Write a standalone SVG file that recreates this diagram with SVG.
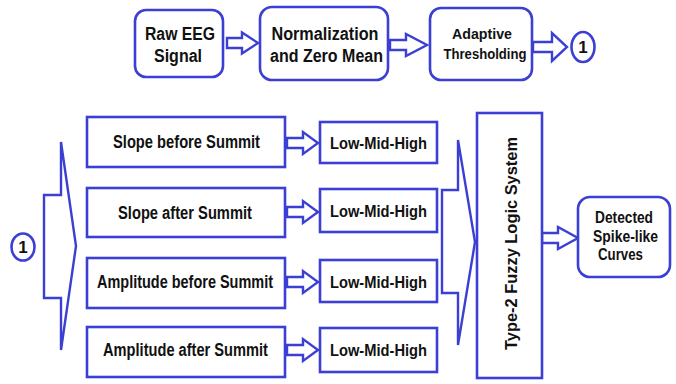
<svg xmlns="http://www.w3.org/2000/svg" width="676" height="384" viewBox="0 0 676 384">
<style>
.b{fill:#fff;stroke:#3b3fd4;stroke-width:2.6}
.a{fill:#fff;stroke:#3b3fd4;stroke-width:2.4;stroke-linejoin:miter}
text{font-family:"Liberation Sans",Arial,sans-serif;font-weight:bold;fill:#111;text-anchor:middle}
.t18{font-size:18px}
.t17{font-size:17px}
.t16{font-size:16px}
.t15{font-size:15px}
</style>
<rect width="676" height="384" fill="#fff"/>
<g id="connectors">
<path class="a" d="M227,38 H242 V32.5 L258,43 L242,53.5 V48 H227 Z"/>
<path class="a" d="M390,40 H406 V34 L427,45 L406,56 V50 H390 Z"/>
<path class="a" d="M533,42 H552 V33 L567,47 L552,61 V52 H533 Z"/>
<path class="a" d="M44,195 H61 V142 L76,246 L61,350 V298 H44 Z"/>
<path class="a" d="M287,138 H303 V132 L318,143 L303,154 V148 H287 Z"/>
<path class="a" d="M287,207 H303 V201 L318,212 L303,223 V217 H287 Z"/>
<path class="a" d="M287,277 H303 V271 L318,282 L303,293 V287 H287 Z"/>
<path class="a" d="M287,345 H303 V339 L318,350 L303,361 V355 H287 Z"/>
<path class="a" d="M442,190 H458 V140 L475,242 L458,345 V293 H442 Z"/>
<path class="a" d="M542,233 H558 V227 L578,238 L558,249 V243 H542 Z"/>
</g>
<g id="raw">
<rect class="b" x="135" y="10" width="88" height="67" rx="11"/>
<text class="t18" x="180" y="40" textLength="70" lengthAdjust="spacingAndGlyphs">Raw EEG</text>
<text class="t18" x="178" y="62" textLength="48" lengthAdjust="spacingAndGlyphs">Signal</text>
</g>
<g id="norm">
<rect class="b" x="260" y="7" width="128" height="73" rx="12"/>
<text class="t18" x="325" y="40" textLength="107" lengthAdjust="spacingAndGlyphs">Normalization</text>
<text class="t18" x="326.5" y="62" textLength="113" lengthAdjust="spacingAndGlyphs">and Zero Mean</text>
</g>
<g id="adapt">
<rect class="b" x="430" y="8" width="102" height="72" rx="11"/>
<text class="t15" x="482" y="38.5" textLength="60" lengthAdjust="spacingAndGlyphs">Adaptive</text>
<text class="t15" x="485" y="58.5" textLength="83" lengthAdjust="spacingAndGlyphs">Thresholding</text>
</g>
<g id="c1top">
<ellipse class="b" cx="583" cy="47" rx="11.5" ry="15"/>
<text class="t17" x="583" y="53">1</text>
</g>
<g id="c1left">
<ellipse class="b" cx="23" cy="247" rx="11.5" ry="13.5"/>
<text class="t17" x="23" y="253">1</text>
</g>
<g id="slopeBefore">
<rect class="b" x="87" y="117" width="198" height="50"/>
<text class="t18" x="186.5" y="147.5" textLength="147" lengthAdjust="spacingAndGlyphs">Slope before Summit</text>
</g>
<g id="slopeAfter">
<rect class="b" x="87" y="188" width="198" height="49"/>
<text class="t18" x="185" y="218.5" textLength="134" lengthAdjust="spacingAndGlyphs">Slope after Summit</text>
</g>
<g id="ampBefore">
<rect class="b" x="87" y="258" width="198" height="50"/>
<text class="t18" x="185" y="287.5" textLength="176" lengthAdjust="spacingAndGlyphs">Amplitude before Summit</text>
</g>
<g id="ampAfter">
<rect class="b" x="87" y="327" width="198" height="50"/>
<text class="t18" x="185.5" y="355.5" textLength="165" lengthAdjust="spacingAndGlyphs">Amplitude after Summit</text>
</g>
<g id="lmh1">
<rect class="b" x="320" y="122" width="117" height="41"/>
<text class="t17" x="378.5" y="149" textLength="97" lengthAdjust="spacingAndGlyphs">Low-Mid-High</text>
</g>
<g id="lmh2">
<rect class="b" x="320" y="189" width="117" height="43"/>
<text class="t17" x="378.5" y="216.5" textLength="97" lengthAdjust="spacingAndGlyphs">Low-Mid-High</text>
</g>
<g id="lmh3">
<rect class="b" x="320" y="260" width="117" height="42"/>
<text class="t17" x="378.5" y="287.5" textLength="97" lengthAdjust="spacingAndGlyphs">Low-Mid-High</text>
</g>
<g id="lmh4">
<rect class="b" x="320" y="328" width="117" height="44"/>
<text class="t17" x="378.5" y="356" textLength="97" lengthAdjust="spacingAndGlyphs">Low-Mid-High</text>
</g>
<g id="fls">
<rect class="b" x="477" y="113" width="65" height="265"/>
<text class="t17" transform="translate(516.5,243.5) rotate(-90)" x="0" y="0" textLength="213" lengthAdjust="spacingAndGlyphs">Type-2 Fuzzy Logic System</text>
</g>
<g id="detected">
<rect class="b" x="578" y="197" width="92" height="80" rx="12"/>
<text class="t16" x="624" y="223" textLength="58" lengthAdjust="spacingAndGlyphs">Detected</text>
<text class="t16" x="625.5" y="242" textLength="65" lengthAdjust="spacingAndGlyphs">Spike-like</text>
<text class="t16" x="620.5" y="260" textLength="45" lengthAdjust="spacingAndGlyphs">Curves</text>
</g>
</svg>
